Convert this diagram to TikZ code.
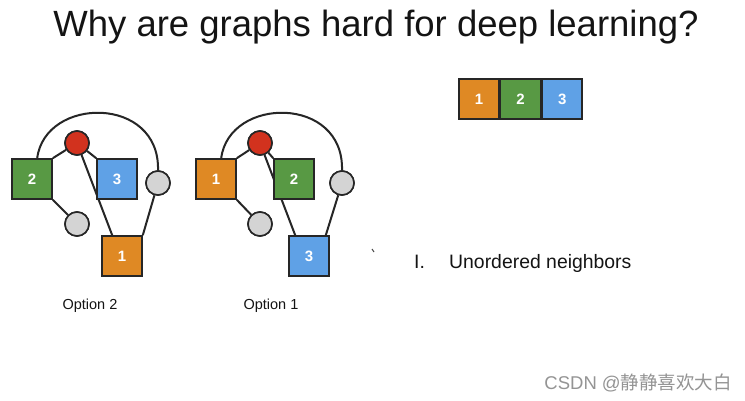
\documentclass[tikz,border=0pt]{standalone}
\usepackage{fontspec}
\setmainfont{Liberation Sans}
\newfontfamily\cjk{Noto Sans CJK SC}
\definecolor{cOrange}{RGB}{223,137,36}
\definecolor{cGreen}{RGB}{88,153,68}
\definecolor{cBlue}{RGB}{95,161,230}
\definecolor{cRed}{RGB}{210,50,30}
\definecolor{cGray}{RGB}{212,212,212}
\definecolor{cText}{RGB}{20,20,20}
\begin{document}
\begin{tikzpicture}[x=1pt,y=-1pt,
  sq/.style={draw=black!85,line width=1.6pt,minimum size=40pt,inner sep=0pt,text=white,font=\fontsize{15}{15}\selectfont\bfseries},
  redc/.style={circle,draw=black!85,line width=1.6pt,fill=cRed,minimum size=24pt,inner sep=0pt},
  grayc/.style={circle,draw=black!85,line width=1.6pt,fill=cGray,minimum size=24pt,inner sep=0pt},
  edge/.style={line width=2pt,black!85},
  lbl/.style={text=cText,inner sep=0pt}]
\useasboundingbox (0,0) rectangle (745,401);
\fill[white] (0,0) rectangle (745,401);
% title
\node[lbl,font=\fontsize{36.5}{40}\selectfont] (title) at (376,27) {Why are graphs hard for deep learning?};
% ---- Option 2 graph
\node[redc] (r2) at (77,143) {};
\node[sq,fill=cGreen] (g2) at (32,179) {2};
\node[sq,fill=cBlue] (b2) at (117,179) {3};
\node[grayc] (gr2) at (158,183) {};
\node[grayc] (gl2) at (77,224) {};
\node[sq,fill=cOrange] (o2) at (122,256) {1};
% ---- Option 1 graph
\node[redc] (r1) at (260,143) {};
\node[sq,fill=cOrange] (o1) at (216,179) {1};
\node[sq,fill=cGreen] (g1) at (294,179) {2};
\node[grayc] (gr1) at (342,183) {};
\node[grayc] (gl1) at (260,224) {};
\node[sq,fill=cBlue] (b1) at (309,256) {3};
% edges (drawn, then nodes redrawn on top)
\draw[edge] (g2.north west) ++(26,0) coordinate (a2s) .. controls +(8,-62) and +(2,-75) .. (gr2.north) coordinate (a2e);
\draw[edge] (r2) -- (g2.north east);
\draw[edge] (r2) -- (b2.north west);
\draw[edge] (r2) -- ([xshift=11pt]o2.north west);
\draw[edge] (g2.south east) -- (gl2);
\draw[edge] (gr2) -- (o2.north east);
\draw[edge] (o1.north west) ++(26,0) coordinate (a1s) .. controls +(8,-62) and +(2,-75) .. (gr1.north) coordinate (a1e);
\draw[edge] (r1) -- (o1.north east);
\draw[edge] (r1) -- (g1.north west);
\draw[edge] (r1) -- ([xshift=7pt]b1.north west);
\draw[edge] (o1.south east) -- (gl1);
\draw[edge] (gr1) -- ([xshift=-4pt]b1.north east);
% redraw nodes on top
\node[redc] at (r2) {};
\node[sq,fill=cGreen] at (g2) {2};
\node[sq,fill=cBlue] at (b2) {3};
\node[grayc] at (gr2) {};
\node[grayc] at (gl2) {};
\node[sq,fill=cOrange] at (o2) {1};
\node[redc] at (r1) {};
\node[sq,fill=cOrange] at (o1) {1};
\node[sq,fill=cGreen] at (g1) {2};
\node[grayc] at (gr1) {};
\node[grayc] at (gl1) {};
\node[sq,fill=cBlue] at (b1) {3};
% labels
\node[lbl,font=\fontsize{14.5}{16}\selectfont] (lab2) at (90,306) {Option 2};
\node[lbl,font=\fontsize{14.5}{16}\selectfont] (lab1) at (271,306) {Option 1};
% ordered bar
\node[sq,fill=cOrange] (bo) at (479,99) {1};
\node[sq,fill=cGreen,anchor=west] (bg) at (bo.east) {2};
\node[sq,fill=cBlue,anchor=west] (bb) at (bg.east) {3};
% list item
\node[lbl,font=\fontsize{19.4}{22}\selectfont,anchor=base west] (num) at (414,268) {I.};
\node[lbl,font=\fontsize{19.4}{22}\selectfont,anchor=base west] (item) at (449,268) {Unordered neighbors};
\draw[line width=1pt,black!70] (372,249) -- (374,252);
% watermark
\node[inner sep=0pt,text=black!42,font=\fontsize{18.5}{20}\selectfont,anchor=east] (wm) at (732,383) {CSDN @{\cjk 静静喜欢大白}};
\end{tikzpicture}
\end{document}
